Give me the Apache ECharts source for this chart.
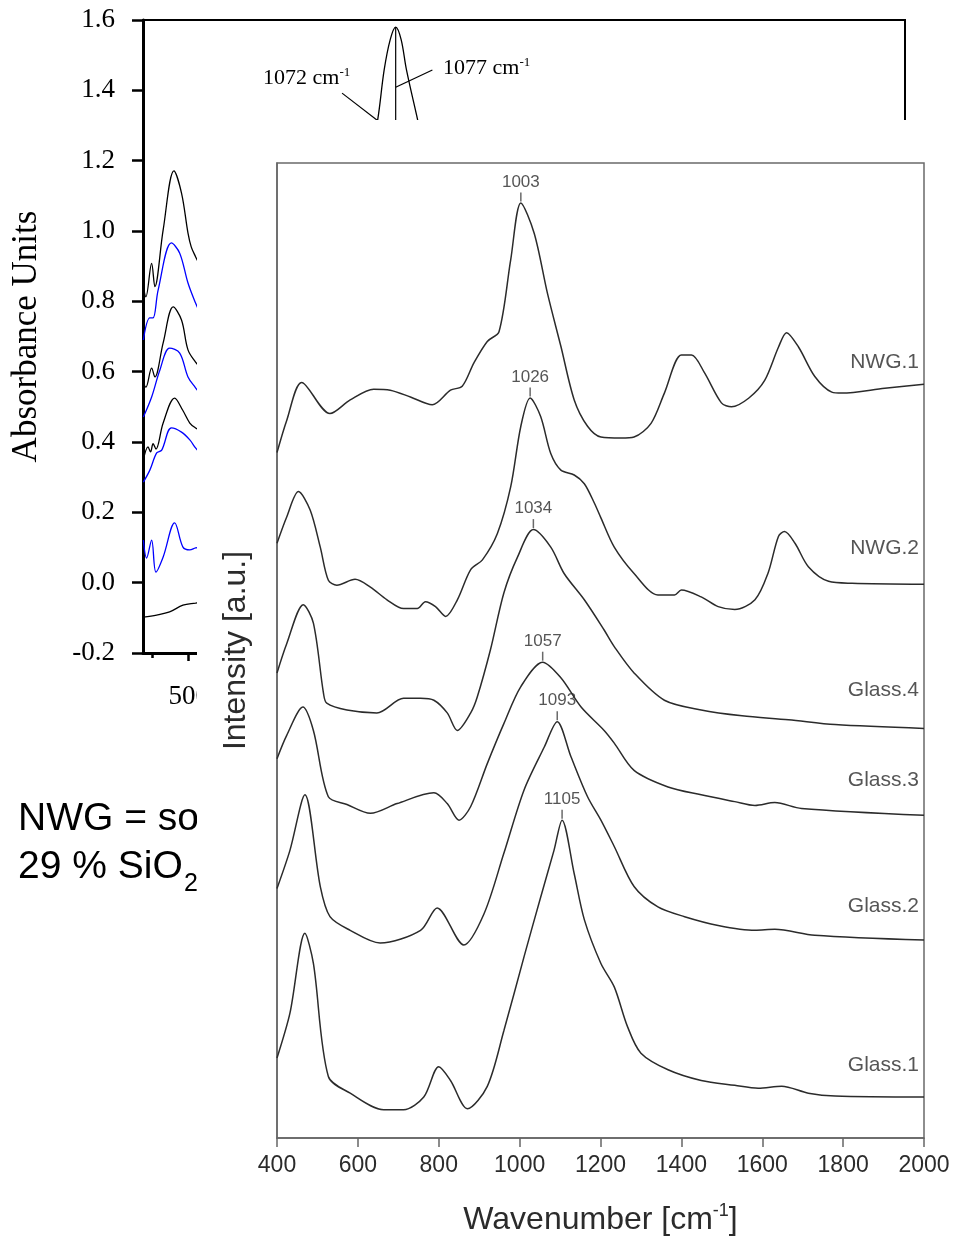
<!DOCTYPE html>
<html><head><meta charset="utf-8">
<script src="https://cdn.jsdelivr.net/npm/echarts@6/dist/echarts.min.js"></script>
<style>
html,body{margin:0;padding:0;background:#fff;}
#bg{position:absolute;left:0;top:0;width:957px;height:1242px;}
#fg{position:absolute;left:197px;top:120px;width:760px;height:1122px;background:#fff;}
</style></head>
<body><div id="bg"></div><div id="fg"></div>
<script>
// ---------- background (FTIR absorbance) chart data ----------
var bgXMajor = [500, 1000, 1500, 2000];
var bgXMinor = [400, 600, 700, 800, 900, 1100, 1200, 1300, 1400, 1600, 1700, 1800, 1900, 2100, 2200, 2300, 2400];
var bgC1 = [[374,0.842],[381,0.813],[397,0.908],[406,0.842],[429,1.003],[459,1.171],[480,1.108],[498,0.994],[507,0.955],[519,0.927],[530,0.905]];
var bgC2 = [[374,0.690],[392,0.753],[401,0.753],[415,0.832],[452,0.966],[475,0.937],[498,0.852],[519,0.795],[530,0.77]];
var bgC3 = [[374,0.568],[381,0.556],[397,0.610],[406,0.585],[429,0.682],[457,0.784],[480,0.747],[498,0.662],[519,0.627],[530,0.615]];
var bgC4 = [[374,0.471],[397,0.528],[420,0.605],[447,0.667],[475,0.653],[498,0.585],[519,0.554],[530,0.54]];
var bgC5 = [[374,0.349],[387,0.386],[394,0.372],[401,0.395],[409,0.380],[429,0.454],[461,0.525],[483,0.491],[503,0.454],[519,0.44],[530,0.435]];
var bgC6 = [[374,0.286],[392,0.320],[411,0.369],[425,0.377],[452,0.440],[480,0.428],[503,0.406],[519,0.383],[530,0.37]];
var bgC7 = [[374,0.121],[383,0.070],[397,0.121],[409,0.030],[429,0.073],[461,0.170],[484,0.101],[503,0.093],[519,0.099],[530,0.1]];
var bgC8 = [[374,-0.098],[411,-0.092],[447,-0.083],[484,-0.064],[519,-0.058],[530,-0.056]];
var bgPeak = [[1010,1.25],[1025,1.316],[1043,1.458],[1060,1.545],[1075,1.58],[1090,1.545],[1105,1.458],[1136,1.316],[1150,1.25]];
var bgPeakMarker = [[1075,1.58],[1075,1.30]];
var bgLeader1072 = [[926,1.392],[1030,1.31]];
var bgLeader1077 = [[1177,1.458],[1075,1.409]];
var bgColors = ['#000000','#0000ff','#000000','#0000ff','#000000','#0000ff','#0000ff','#000000'];

// ---------- foreground (Raman) chart data ----------
var nwg1 = [[400,70.3],[424,73.6],[461,77.5],[531,74.3],[581,75.7],[639,76.8],[680,76.7],[730,76.0],[784,75.2],[829,76.7],[858,77.1],[887,79.5],[920,81.7],[949,82.7],[978,90.1],[1003,95.9],[1036,92.8],[1069,86.6],[1102,81.2],[1135,75.7],[1168,73.0],[1201,71.9],[1251,71.8],[1283,71.9],[1325,73.3],[1358,76.4],[1400,80.3],[1425,80.3],[1457,78.5],[1499,75.4],[1524,75.0],[1567,75.9],[1606,77.7],[1640,81.1],[1660,82.6],[1690,81.1],[1730,78.1],[1772,76.5],[1797,76.4],[1903,76.9],[2000,77.3]];
var nwg2 = [[400,61.0],[424,63.7],[453,66.3],[482,64.4],[507,60.6],[527,57.2],[548,56.7],[593,57.3],[631,56.5],[672,55.2],[713,54.3],[747,54.3],[767,55.0],[792,54.5],[817,53.5],[846,55.2],[879,58.3],[908,59.3],[945,62.0],[978,66.8],[1003,73.0],[1026,75.9],[1052,74.0],[1077,70.2],[1102,68.5],[1135,68.0],[1160,67.1],[1185,65.1],[1201,63.6],[1234,60.6],[1283,57.9],[1342,55.7],[1383,55.7],[1400,56.2],[1449,55.5],[1491,54.5],[1532,54.2],[1582,55.2],[1614,57.9],[1640,61.7],[1655,62.2],[1681,61.0],[1714,58.6],[1764,57.1],[1822,56.9],[2000,56.8]];
var glass4 = [[400,47.7],[424,50.7],[465,54.7],[490,52.8],[515,45.6],[523,44.6],[573,43.9],[647,43.6],[713,45.1],[755,45.1],[788,44.9],[821,43.6],[846,41.8],[879,43.6],[895,45.2],[928,50.1],[961,55.9],[995,59.6],[1034,62.4],[1077,60.6],[1110,57.9],[1160,55.2],[1209,52.1],[1234,50.4],[1283,47.7],[1358,44.9],[1449,43.9],[1550,43.3],[1665,42.9],[1780,42.4],[2000,42.0]];
var glass3 = [[400,38.9],[424,41.3],[464,44.2],[490,41.8],[527,35.0],[573,34.2],[631,33.3],[697,34.3],[788,35.4],[821,34.3],[850,32.6],[879,34.0],[920,38.4],[961,42.5],[1003,46.3],[1057,48.8],[1102,47.2],[1152,44.2],[1209,41.8],[1234,40.5],[1283,37.7],[1367,36.0],[1449,35.2],[1532,34.5],[1582,34.1],[1631,34.4],[1697,33.8],[2000,33.1]];
var glass2 = [[400,25.6],[432,29.5],[469,35.2],[507,25.8],[531,22.7],[581,21.3],[655,20.0],[755,21.3],[796,23.6],[862,19.8],[912,23.0],[961,29.2],[1011,35.7],[1061,40.1],[1093,42.7],[1127,39.1],[1168,35.0],[1201,32.6],[1234,29.9],[1283,25.8],[1342,23.7],[1408,22.7],[1491,21.8],[1582,21.3],[1631,21.4],[1730,20.8],[2000,20.3]];
var glass1 = [[400,8.2],[432,12.8],[469,21.0],[490,17.9],[527,6.3],[581,4.6],[664,2.9],[713,2.9],[763,4.2],[800,7.3],[829,5.9],[871,3.0],[920,5.3],[961,11.0],[1011,18.6],[1052,24.7],[1085,29.5],[1105,32.6],[1135,27.1],[1160,22.4],[1201,17.9],[1234,15.5],[1267,11.4],[1300,8.7],[1367,7.0],[1449,5.9],[1532,5.4],[1590,5.1],[1648,5.3],[1714,4.6],[1780,4.3],[2000,4.2]];
var fgSeries = [nwg1, nwg2, glass4, glass3, glass2, glass1];
var curveNames = ['NWG.1', 'NWG.2', 'Glass.4', 'Glass.3', 'Glass.2', 'Glass.1'];
var curveLabelY = [79.6, 60.5, 45.9, 36.7, 23.8, 7.5];
var peakPos = [1003, 1026, 1034, 1057, 1093, 1105];
var peakVal = [95.9, 75.9, 62.4, 48.8, 42.7, 32.6];

var SERIF = 'Liberation Serif';
var SANS = 'Liberation Sans';

// ---------- background chart ----------
var bgChart = echarts.init(document.getElementById('bg'), null, {renderer: 'canvas'});
var bgCurves = [bgC1, bgC2, bgC3, bgC4, bgC5, bgC6, bgC7, bgC8];
var bgSer = bgCurves.map(function (d, i) {
  return {type: 'line', data: d, smooth: 0.35, symbol: 'none', silent: true,
    lineStyle: {color: bgColors[i], width: 1.3}};
});
bgSer.push({type: 'line', data: bgPeak, smooth: 0.35, symbol: 'none', lineStyle: {color: '#000', width: 1.3}});
[bgPeakMarker, bgLeader1072, bgLeader1077].forEach(function (d) {
  bgSer.push({type: 'line', data: d, symbol: 'none', lineStyle: {color: '#000', width: 1.2}});
});
bgChart.setOption({
  animation: false,
  grid: {left: 143, top: 20, right: 52, bottom: 589, show: true, borderColor: '#000', borderWidth: 2, containLabel: false},
  xAxis: [{
    type: 'value', min: 373, max: 2490, position: 'bottom',
    axisLine: {onZero: false, lineStyle: {color: '#000', width: 3}},
    axisTick: {customValues: bgXMajor, length: 8, lineStyle: {color: '#000', width: 2.5}},
    axisLabel: {customValues: bgXMajor, fontFamily: SERIF, fontSize: 27, color: '#000', margin: 30,
      formatter: function (v) { return String(v); }},
    splitLine: {show: false}
  }, {
    type: 'value', min: 373, max: 2490, position: 'bottom',
    axisLine: {show: false, onZero: false},
    axisTick: {customValues: bgXMinor, length: 5, lineStyle: {color: '#000', width: 2.5}},
    axisLabel: {show: false},
    splitLine: {show: false}
  }],
  yAxis: {
    type: 'value', min: -0.2, max: 1.6, interval: 0.2,
    axisLine: {show: true, onZero: false, lineStyle: {color: '#000', width: 3}},
    axisTick: {show: true, length: 11, lineStyle: {color: '#000', width: 2.5}},
    axisLabel: {fontFamily: SERIF, fontSize: 27, color: '#000', margin: 28,
      formatter: function (v) { return v.toFixed(1); }},
    splitLine: {show: false},
    name: 'Absorbance Units', nameLocation: 'middle', nameGap: 99,
    nameTextStyle: {fontFamily: SERIF, fontSize: 35, color: '#000'}
  },
  series: bgSer,
  graphic: [
    {type: 'text', x: 263, y: 78, style: {text: '{a|1072 cm}{s|-1}', align: 'left', verticalAlign: 'middle',
      rich: {a: {fontFamily: SERIF, fontSize: 22, lineHeight: 24, fill: '#000'}, s: {fontFamily: SERIF, fontSize: 13, lineHeight: 13, verticalAlign: 'top', fill: '#000'}}}},
    {type: 'text', x: 443, y: 68, style: {text: '{a|1077 cm}{s|-1}', align: 'left', verticalAlign: 'middle',
      rich: {a: {fontFamily: SERIF, fontSize: 22, lineHeight: 24, fill: '#000'}, s: {fontFamily: SERIF, fontSize: 13, lineHeight: 13, verticalAlign: 'top', fill: '#000'}}}},
    {type: 'text', x: 18, y: 819, style: {text: 'NWG = so', font: '39px "Liberation Sans"', fill: '#000', align: 'left', verticalAlign: 'middle'}},
    {type: 'text', x: 18, y: 867, style: {text: '29 % SiO', font: '39px "Liberation Sans"', fill: '#000', align: 'left', verticalAlign: 'middle'}},
    {type: 'text', x: 184, y: 884, style: {text: '2', font: '25px "Liberation Sans"', fill: '#000', align: 'left', verticalAlign: 'middle'}}
  ]
});

// ---------- foreground chart ----------
var fgChart = echarts.init(document.getElementById('fg'), null, {renderer: 'canvas'});
var fgSer = fgSeries.map(function (d) {
  return {type: 'line', data: d, smooth: 0.3, symbol: 'none', lineStyle: {color: '#2b2b2b', width: 1.5}};
});
fgSer.push({
  type: 'scatter', symbol: 'rect', symbolSize: [1.5, 9], symbolOffset: [0, -6],
  itemStyle: {color: '#444'},
  data: peakPos.map(function (p, i) { return {value: [p, peakVal[i]], name: String(p)}; }),
  label: {show: true, position: 'top', distance: 2, formatter: '{b}', fontFamily: SANS, fontSize: 17, color: '#2b2b2b'}
});
fgSer.push({
  type: 'scatter', symbolSize: 0,
  data: curveNames.map(function (n, i) { return {value: [2000, curveLabelY[i]], name: n}; }),
  label: {show: true, position: 'left', distance: 5, formatter: '{b}', fontFamily: SANS, fontSize: 21, color: '#2b2b2b'}
});
fgChart.setOption({
  animation: false,
  grid: {left: 80, top: 43, right: 33, bottom: 104, show: true, borderColor: '#6a6a6a', borderWidth: 1.5},
  xAxis: {
    type: 'value', min: 400, max: 2000, interval: 200,
    axisLine: {onZero: false, lineStyle: {color: '#666', width: 1.5}},
    axisTick: {length: 9, lineStyle: {color: '#666', width: 1.5}},
    axisLabel: {fontFamily: SANS, fontSize: 23, color: '#2b2b2b', margin: 16,
      formatter: function (v) { return String(v); }},
    splitLine: {show: false},
    name: '{a|Wavenumber [cm}{s|-1}{a|]}', nameLocation: 'middle', nameGap: 64,
    nameTextStyle: {rich: {a: {fontFamily: SANS, fontSize: 32, lineHeight: 36, color: '#2b2b2b'}, s: {fontFamily: SANS, fontSize: 18, lineHeight: 18, verticalAlign: 'top', color: '#2b2b2b'}}}
  },
  yAxis: {
    type: 'value', min: 0, max: 100,
    axisLine: {show: true, onZero: false, lineStyle: {color: '#666', width: 1.5}},
    axisTick: {show: false}, axisLabel: {show: false}, splitLine: {show: false},
    name: 'Intensity [a.u.]', nameLocation: 'middle', nameGap: 25,
    nameTextStyle: {fontFamily: SANS, fontSize: 32, color: '#2b2b2b'}
  },
  series: fgSer
});
</script>
</body></html>
